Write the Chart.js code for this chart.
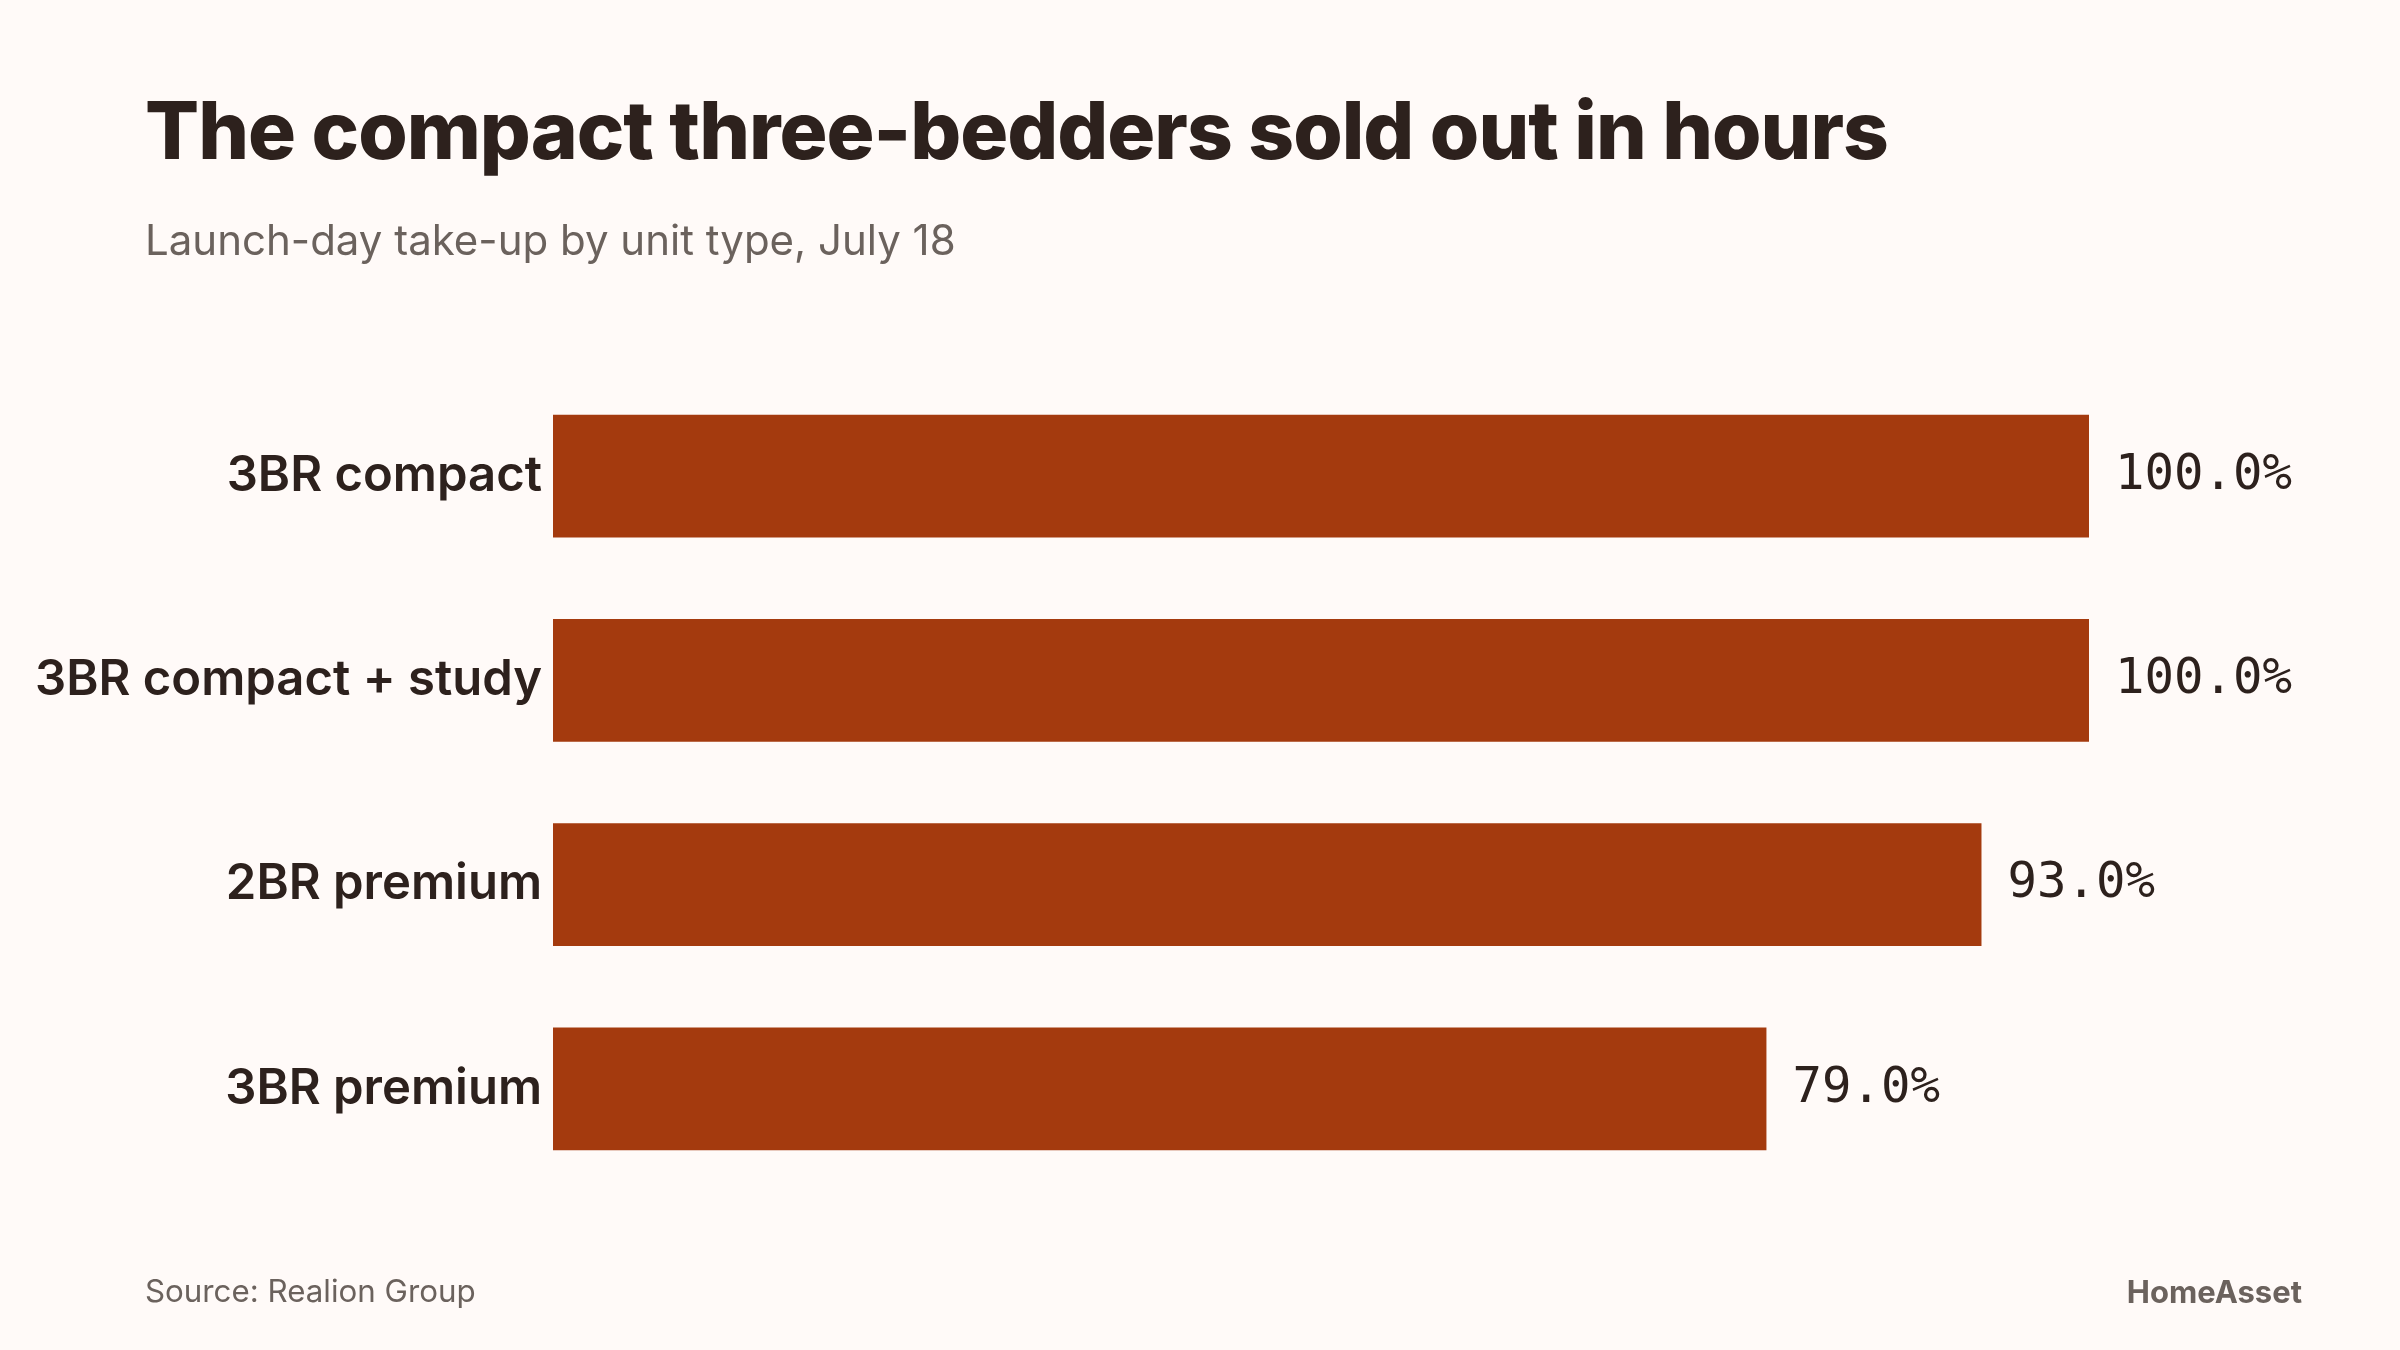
<!DOCTYPE html>
<html>
<head>
<meta charset="utf-8">
<script src="https://cdn.jsdelivr.net/npm/chart.js@4.4.1/dist/chart.umd.min.js"></script>
<style>
  html, body { margin: 0; padding: 0; background: #fffaf8; }
  #wrap { position: relative; width: 2400px; height: 1350px; overflow: hidden; }
  #chart { position: absolute; left: 0; top: 0; }
  .txt { position: absolute; white-space: nowrap; line-height: 1; font-family: Inter, sans-serif; }
  #title { left: 145px; top: 90px; font-size: 80px; font-weight: 800; color: #2d211d; letter-spacing: -1px; }
  #subtitle { left: 145px; top: 219px; font-size: 42px; font-weight: 400; color: #6b625d; }
  #source { left: 145px; top: 1276px; font-size: 31.3px; color: #6b625d; }
  #brand { right: 98px; top: 1276px; font-size: 31px; font-weight: 700; color: #6b625d; }
</style>
</head>
<body>
<div id="wrap">
  <canvas id="chart" width="2400" height="1350"></canvas>
  <div class="txt" id="title">The compact three-bedders sold out in hours</div>
  <div class="txt" id="subtitle">Launch-day take-up by unit type, July 18</div>
  <div class="txt" id="source">Source: Realion Group</div>
  <div class="txt" id="brand">HomeAsset</div>
</div>
<script>
const unitTypes = ["3BR compact", "3BR compact + study", "2BR premium", "3BR premium"];
const takeUp = [100, 100, 93, 79];

const barColor = "#a43a0e";
const textDark = "#2d211d";

// etiquetas de valor no fim de cada barra
const valueLabels = {
  id: "valueLabels",
  afterDatasetsDraw(chart) {
    const ctx = chart.ctx;
    const meta = chart.getDatasetMeta(0);
    ctx.save();
    ctx.font = "49px 'DejaVu Sans Mono', monospace";
    ctx.fillStyle = textDark;
    ctx.textAlign = "left";
    ctx.textBaseline = "middle";
    meta.data.forEach((bar, i) => {
      ctx.fillText(takeUp[i].toFixed(1) + "%", bar.x + 26, bar.y);
    });
    ctx.restore();
  },
};

new Chart(document.getElementById("chart").getContext("2d"), {
  type: "bar",
  data: {
    labels: unitTypes,
    datasets: [
      {
        data: takeUp,
        backgroundColor: barColor,
        borderWidth: 0,
        barPercentage: 0.6,
        categoryPercentage: 1,
      },
    ],
  },
  options: {
    indexAxis: "y",
    responsive: false,
    animation: false,
    layout: {
      padding: { left: 0, right: 311, top: 374, bottom: 159 },
    },
    scales: {
      x: {
        display: false,
        min: 0,
        max: 100,
      },
      y: {
        grid: { display: false, drawTicks: false },
        border: { display: false },
        ticks: {
          padding: 11,
          color: textDark,
          font: { family: "Inter", size: 49, weight: "600" },
        },
        afterFit(scale) {
          scale.width = 553;
        },
      },
    },
    plugins: {
      legend: { display: false },
      tooltip: { enabled: false },
    },
  },
  plugins: [valueLabels],
});
</script>
</body>
</html>
